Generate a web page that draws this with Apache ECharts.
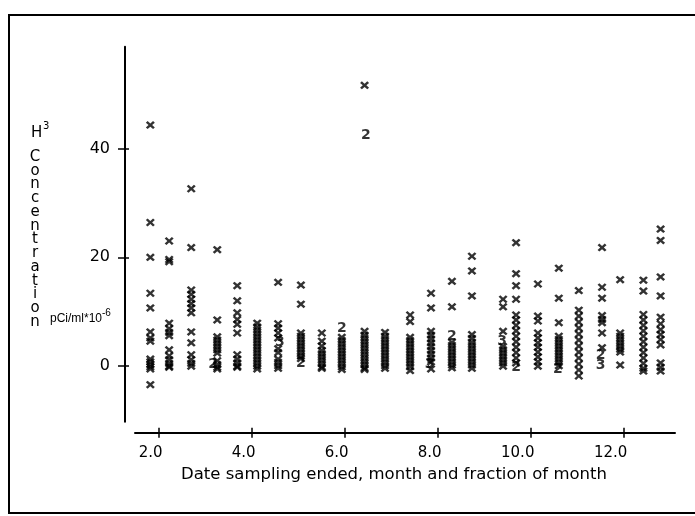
<!DOCTYPE html>
<html>
<head>
<meta charset="utf-8">
<script src="https://cdn.jsdelivr.net/npm/echarts@6/dist/echarts.min.js"></script>
<style>
  html, body { margin: 0; padding: 0; background: #fff; }
  #chart { width: 695px; height: 516px; }
</style>
</head>
<body>
<div id="chart"></div>
<script>
// Sampling end dates (month + fraction of month), one per column of results
const sampleMonths = [1.81, 2.215, 2.69, 3.25, 3.68, 4.11, 4.56, 5.05, 5.50, 5.93, 6.42, 6.86, 7.40,
                      7.85, 8.30, 8.73, 9.40, 9.68, 10.15, 10.60, 11.03, 11.53, 11.92, 12.42, 12.79];

// H3 concentrations (pCi/ml x 10^-6) for each sampling date
const col01 = [44.3, 26.4, 20.0, 13.4, 10.7, 6.3, 5.2, 4.6, 1.3, 0.8, 0.3, -0.1, -0.5, -3.4];
const col02 = [23.0, 19.6, 19.2, 7.9, 6.9, 6.2, 5.6, 3.0, 1.9, 1.2, 0.5, 0.0, -0.2];
const col03 = [32.6, 21.8, 14.0, 13.2, 12.3, 11.5, 10.7, 9.8, 6.3, 4.3, 2.1, 1.2, 0.5, 0.0];
const col04 = [21.4, 8.5, 5.4, 4.8, 4.2, 3.6, 3.0, 2.4, 1.0, 0.3, -0.2, -0.5];
const col05 = [14.8, 12.0, 9.8, 8.6, 7.7, 6.1, 2.1, 1.3, 0.6, 0.0, -0.2];
const col06 = [7.9, 7.2, 6.6, 6.0, 5.4, 4.8, 4.2, 3.6, 3.0, 2.4, 1.8, 1.2, 0.6, 0.0, -0.5];
const col07 = [15.4, 7.8, 7.0, 6.1, 5.2, 3.2, 2.5, 1.3, 0.7, 0.1, -0.4];
const col08 = [14.9, 11.4, 6.1, 5.5, 4.9, 4.3, 3.7, 3.1, 2.5, 1.9, 1.4];
const col09 = [6.1, 4.6, 3.7, 2.9, 2.3, 1.7, 1.1, 0.5, -0.1, -0.4];
const col10 = [5.3, 4.7, 4.1, 3.5, 2.9, 2.3, 1.7, 1.1, 0.5, -0.1, -0.6];
const col11 = [51.6, 6.4, 5.7, 5.1, 4.5, 3.9, 3.3, 2.7, 2.1, 1.5, 0.9, 0.3, -0.3, -0.6];
const col12 = [6.2, 5.5, 4.9, 4.3, 3.7, 3.1, 2.5, 1.9, 1.3, 0.7, 0.1, -0.4];
const col13 = [9.4, 8.2, 5.3, 4.7, 4.1, 3.5, 2.9, 2.3, 1.7, 1.1, 0.5, -0.1, -0.8];
const col14 = [13.4, 10.7, 6.4, 5.7, 5.0, 4.3, 3.6, 2.9, 2.2, 1.5, 0.8, -0.5];
const col15 = [15.6, 10.9, 4.4, 3.8, 3.2, 2.6, 2.0, 1.4, 0.8, 0.2, -0.3];
const col16 = [20.2, 17.5, 12.9, 5.8, 5.1, 4.4, 3.8, 3.2, 2.6, 2.0, 1.4, 0.8, 0.2, -0.4];
const col17 = [12.3, 10.9, 6.4, 3.6, 3.0, 2.4, 1.8, 1.2, 0.6, 0.0];
const col18 = [22.7, 17.0, 14.8, 12.3, 9.4, 8.5, 7.5, 6.5, 5.5, 4.5, 3.5, 2.5, 1.5, 0.6];
const col19 = [15.1, 9.2, 8.3, 6.1, 5.2, 4.3, 3.5, 2.6, 1.7, 0.8, 0.0];
const col20 = [18.0, 12.5, 8.0, 5.5, 4.9, 4.3, 3.7, 3.1, 2.5, 1.9, 1.3, 0.7, 0.1];
const col21 = [13.9, 10.3, 9.2, 8.1, 7.0, 5.9, 4.8, 3.7, 2.6, 1.5, 0.4, -0.7, -1.8];
const col22 = [21.8, 14.5, 12.5, 9.3, 8.6, 8.0, 6.1, 3.4];
const col23 = [15.9, 6.1, 5.5, 4.9, 4.3, 3.7, 3.1, 2.6, 0.2];
const col24 = [15.8, 13.8, 9.5, 8.5, 7.5, 6.5, 5.5, 4.5, 3.5, 2.5, 1.5, 0.5, -0.4, -0.9];
const col25 = [25.2, 23.1, 16.4, 12.9, 9.0, 7.8, 6.7, 5.8, 4.9, 3.9, 0.6, -0.2, -0.9];

// Coincident results, plotted with a count digit instead of an X
const glyphMonths = [3.16, 4.60, 5.05, 5.93, 6.45, 7.82, 8.30, 9.38, 9.68, 10.58, 11.50, 11.50];
const glyphValues = [0.3, 4.3, 0.5, 6.9, 42.4, 0.4, 5.4, 4.5, -0.2, -0.6, 2.0, 0.2];
const glyphTexts  = ['2', '3', '2', '2', '2', '3', '2', '3', '2', '2', '2', '3'];

// Axis ticks
const xTickValues = [2, 4, 6, 8, 10, 12];
const xTickLabels = ['2.0', '4.0', '6.0', '8.0', '10.0', '12.0'];
const yTickValues = [0, 20, 40];
const yTickLabels = ['0', '20', '40'];

const columnValues = [col01, col02, col03, col04, col05, col06, col07, col08, col09, col10,
  col11, col12, col13, col14, col15, col16, col17, col18, col19, col20,
  col21, col22, col23, col24, col25];

const points = [];
sampleMonths.forEach((m, i) => columnValues[i].forEach(v => points.push([m, v])));
const glyphs = glyphMonths.map((m, i) => [m, glyphValues[i], glyphTexts[i]]);

const X_MIN = 1.48, X_MAX = 13.1, Y_MIN = -10.2, Y_MAX = 58.7;
const LABEL_SHIFT = 0.075; // x tick labels sit slightly right of their ticks
const FONT = 'DejaVu Sans';
const crossMark = 'path://M0,2L2,0L5,3L8,0L10,2L7,5L10,8L8,10L5,7L2,10L0,8L3,5Z';

const chart = echarts.init(document.getElementById('chart'), null, { renderer: 'canvas' });

const xBase = { type: 'value', gridIndex: 0, min: X_MIN, max: X_MAX, position: 'bottom', offset: 11,
                splitLine: { show: false } };
const yBase = { type: 'value', gridIndex: 0, min: Y_MIN, max: Y_MAX, position: 'left', offset: 10,
                splitLine: { show: false } };

chart.setOption({
  animation: false,
  backgroundColor: '#fff',
  grid: { left: 135, right: 20, top: 46.7, bottom: 94.3, containLabel: false },
  xAxis: [
    Object.assign({}, xBase, {
      axisLine: { show: true, onZero: false, lineStyle: { color: '#000', width: 2 } },
      axisTick: { show: true, customValues: xTickValues, length: 5, lineStyle: { color: '#000', width: 1.5 } },
      axisLabel: { show: false }
    }),
    Object.assign({}, xBase, {
      axisLine: { show: false, onZero: false },
      axisTick: { show: true, inside: true, customValues: xTickValues, length: 5, lineStyle: { color: '#000', width: 1.5 } },
      axisLabel: { show: false }
    }),
    Object.assign({}, xBase, {
      min: X_MIN - LABEL_SHIFT, max: X_MAX - LABEL_SHIFT,
      axisLine: { show: false, onZero: false },
      axisTick: { show: false },
      axisLabel: {
        show: true, customValues: xTickValues, align: 'right', margin: 13,
        fontFamily: FONT, fontSize: 15, color: '#000',
        formatter: v => xTickLabels[xTickValues.indexOf(v)]
      }
    })
  ],
  yAxis: [
    Object.assign({}, yBase, {
      axisLine: { show: true, onZero: false, lineStyle: { color: '#000', width: 2 } },
      axisTick: { show: true, customValues: yTickValues, length: 7, lineStyle: { color: '#000', width: 1.5 } },
      axisLabel: {
        show: true, customValues: yTickValues, margin: 15,
        fontFamily: FONT, fontSize: 16, color: '#000',
        formatter: v => yTickLabels[yTickValues.indexOf(v)]
      }
    }),
    Object.assign({}, yBase, {
      axisLine: { show: false, onZero: false },
      axisTick: { show: true, inside: true, customValues: yTickValues, length: 4, lineStyle: { color: '#000', width: 1.5 } },
      axisLabel: { show: false }
    })
  ],
  series: [
    {
      type: 'scatter', xAxisIndex: 0, yAxisIndex: 0,
      data: points,
      symbol: crossMark, symbolSize: [9, 8],
      itemStyle: { color: '#000' },
      silent: true
    },
    {
      type: 'scatter', xAxisIndex: 0, yAxisIndex: 0,
      data: glyphs,
      symbolSize: 1,
      itemStyle: { color: 'rgba(0,0,0,0)' },
      label: {
        show: true, position: 'inside', formatter: p => p.data[2],
        fontFamily: FONT, fontSize: 14, fontWeight: 'bold', color: '#000'
      },
      silent: true
    }
  ],
  graphic: [
    // page frame
    { type: 'line', shape: { x1: 9, y1: 15, x2: 9, y2: 513 }, style: { stroke: '#000', lineWidth: 2 } },
    { type: 'line', shape: { x1: 8, y1: 15, x2: 695, y2: 15 }, style: { stroke: '#000', lineWidth: 2 } },
    { type: 'line', shape: { x1: 8, y1: 513, x2: 695, y2: 513 }, style: { stroke: '#000', lineWidth: 2 } },
    // y-axis title
    { type: 'text', left: 31, top: 126, style: { text: 'H', font: '15px "DejaVu Sans"', fill: '#000' } },
    { type: 'text', left: 43, top: 121, style: { text: '3', font: '10px "DejaVu Sans"', fill: '#000' } },
    { type: 'text', x: 35, y: 150, style: {
        text: 'Concentration'.split('').join('\n'), font: '15px "DejaVu Sans"',
        lineHeight: 13.75, align: 'center', verticalAlign: 'top', fill: '#000' } },
    { type: 'text', x: 50, y: 319, style: { text: 'pCi/ml*10', font: '12px "Liberation Sans"',
        verticalAlign: 'middle', fill: '#000' } },
    { type: 'text', x: 102, y: 313, style: { text: '-6', font: '10px "Liberation Sans"',
        verticalAlign: 'middle', fill: '#000' } },
    // x-axis title
    { type: 'text', x: 394, y: 475, style: { text: 'Date sampling ended, month and fraction of month',
        font: '16.5px "DejaVu Sans"', align: 'center', verticalAlign: 'middle', fill: '#000' } }
  ]
});
</script>
</body>
</html>
